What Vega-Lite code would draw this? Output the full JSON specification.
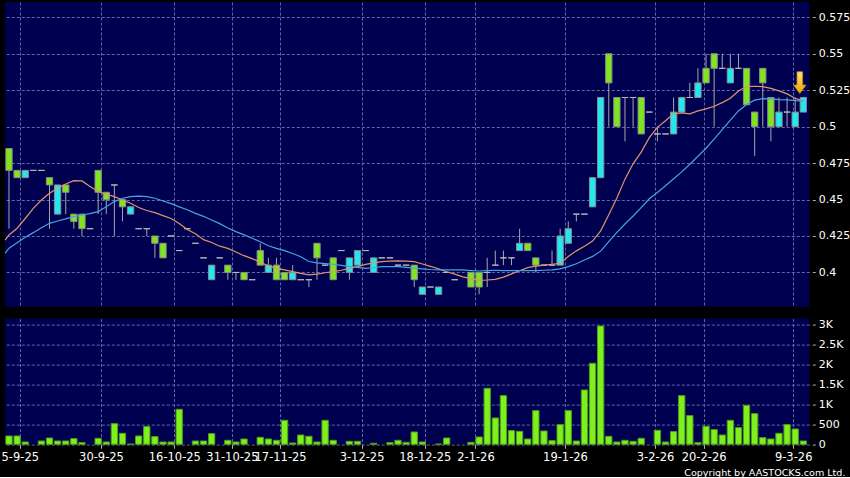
{
  "$schema": "https://vega.github.io/schema/vega-lite/v6.json",
  "background": "#000000",
  "padding": {"left": 0, "top": 2, "right": 0, "bottom": 0},
  "bounds": "flush",
  "spacing": 11.6,
  "config": {
    "view": {"fill": "#000050", "stroke": null},
    "axis": {"labelFont": "DejaVu Sans", "labelColor": "#ffffff", "gridColor": "#5f69aa", "gridDash": [3, 2], "gridWidth": 1, "domain": false, "tickColor": "#b0b0b0", "tickWidth": 1}
  },
  "datasets": {
    "k": [
      {"i": -0.49, "m1": 0.4222, "m2": 0.413},
      {"i": 0, "o": 0.485, "c": 0.47, "h": 0.485, "l": 0.43, "v": 208, "m1": 0.4257, "m2": 0.4166},
      {"i": 1, "o": 0.47, "c": 0.465, "h": 0.47, "l": 0.465, "v": 208, "m1": 0.4303, "m2": 0.4204},
      {"i": 2, "o": 0.465, "c": 0.47, "h": 0.47, "l": 0.465, "v": 58, "m1": 0.437, "m2": 0.4241},
      {"i": 3, "o": 0.47, "c": 0.47, "h": 0.47, "l": 0.47, "v": 0, "m1": 0.444, "m2": 0.4273},
      {"i": 4, "o": 0.47, "c": 0.47, "h": 0.47, "l": 0.47, "v": 83, "m1": 0.4497, "m2": 0.4307},
      {"i": 5, "o": 0.465, "c": 0.46, "h": 0.465, "l": 0.43, "v": 158, "m1": 0.4543, "m2": 0.4337},
      {"i": 6, "o": 0.44, "c": 0.46, "h": 0.46, "l": 0.44, "v": 83, "m1": 0.4578, "m2": 0.4353},
      {"i": 7, "o": 0.46, "c": 0.455, "h": 0.46, "l": 0.44, "v": 83, "m1": 0.4607, "m2": 0.4367},
      {"i": 8, "o": 0.44, "c": 0.435, "h": 0.44, "l": 0.43, "v": 142, "m1": 0.463, "m2": 0.4383},
      {"i": 9, "o": 0.44, "c": 0.43, "h": 0.44, "l": 0.425, "v": 42, "m1": 0.4628, "m2": 0.4394},
      {"i": 10, "o": 0.43, "c": 0.43, "h": 0.43, "l": 0.43, "v": 0, "m1": 0.4589, "m2": 0.4403},
      {"i": 11, "o": 0.47, "c": 0.455, "h": 0.47, "l": 0.44, "v": 150, "m1": 0.4555, "m2": 0.4417},
      {"i": 12, "o": 0.455, "c": 0.45, "h": 0.455, "l": 0.44, "v": 58, "m1": 0.4536, "m2": 0.4451},
      {"i": 13, "o": 0.46, "c": 0.46, "h": 0.46, "l": 0.425, "v": 517, "m1": 0.452, "m2": 0.4486},
      {"i": 14, "o": 0.45, "c": 0.445, "h": 0.45, "l": 0.435, "v": 275, "m1": 0.4497, "m2": 0.4509},
      {"i": 15, "o": 0.44, "c": 0.445, "h": 0.445, "l": 0.44, "v": 5, "m1": 0.4475, "m2": 0.452},
      {"i": 16, "o": 0.43, "c": 0.43, "h": 0.43, "l": 0.43, "v": 208, "m1": 0.4445, "m2": 0.4523},
      {"i": 17, "o": 0.43, "c": 0.43, "h": 0.43, "l": 0.425, "v": 442, "m1": 0.4425, "m2": 0.452},
      {"i": 18, "o": 0.425, "c": 0.42, "h": 0.425, "l": 0.41, "v": 192, "m1": 0.441, "m2": 0.4509},
      {"i": 19, "o": 0.42, "c": 0.41, "h": 0.42, "l": 0.41, "v": 58, "m1": 0.439, "m2": 0.449},
      {"i": 20, "o": 0.425, "c": 0.425, "h": 0.425, "l": 0.425, "v": 58, "m1": 0.437, "m2": 0.4472},
      {"i": 21, "o": 0.415, "c": 0.415, "h": 0.415, "l": 0.415, "v": 875, "m1": 0.4335, "m2": 0.445},
      {"i": 22, "o": 0.43, "c": 0.43, "h": 0.43, "l": 0.43, "v": 0, "m1": 0.4295, "m2": 0.443},
      {"i": 23, "o": 0.42, "c": 0.42, "h": 0.42, "l": 0.42, "v": 83, "m1": 0.4265, "m2": 0.4405},
      {"i": 24, "o": 0.41, "c": 0.41, "h": 0.41, "l": 0.41, "v": 83, "m1": 0.4225, "m2": 0.4385},
      {"i": 25, "o": 0.395, "c": 0.405, "h": 0.405, "l": 0.395, "v": 267, "m1": 0.4205, "m2": 0.436},
      {"i": 26, "o": 0.41, "c": 0.41, "h": 0.41, "l": 0.41, "v": 0, "m1": 0.418, "m2": 0.4335},
      {"i": 27, "o": 0.405, "c": 0.4, "h": 0.405, "l": 0.395, "v": 100, "m1": 0.4165, "m2": 0.4305},
      {"i": 28, "o": 0.4, "c": 0.4, "h": 0.4, "l": 0.395, "v": 58, "m1": 0.414, "m2": 0.428},
      {"i": 29, "o": 0.4, "c": 0.395, "h": 0.4, "l": 0.395, "v": 133, "m1": 0.4115, "m2": 0.4258},
      {"i": 30, "o": 0.395, "c": 0.395, "h": 0.395, "l": 0.395, "v": 0, "m1": 0.4095, "m2": 0.4235},
      {"i": 31, "o": 0.415, "c": 0.405, "h": 0.42, "l": 0.405, "v": 175, "m1": 0.407, "m2": 0.421},
      {"i": 32, "o": 0.4, "c": 0.405, "h": 0.41, "l": 0.4, "v": 133, "m1": 0.4045, "m2": 0.4183},
      {"i": 33, "o": 0.405, "c": 0.395, "h": 0.41, "l": 0.395, "v": 100, "m1": 0.4028, "m2": 0.4165},
      {"i": 34, "o": 0.4, "c": 0.395, "h": 0.4, "l": 0.395, "v": 600, "m1": 0.4017, "m2": 0.415},
      {"i": 35, "o": 0.395, "c": 0.4, "h": 0.405, "l": 0.395, "v": 33, "m1": 0.4005, "m2": 0.413},
      {"i": 36, "o": 0.395, "c": 0.395, "h": 0.395, "l": 0.395, "v": 233, "m1": 0.3994, "m2": 0.4108},
      {"i": 37, "o": 0.395, "c": 0.395, "h": 0.395, "l": 0.39, "v": 200, "m1": 0.3984, "m2": 0.4075},
      {"i": 38, "o": 0.42, "c": 0.41, "h": 0.42, "l": 0.395, "v": 58, "m1": 0.3988, "m2": 0.4065},
      {"i": 39, "o": 0.405, "c": 0.405, "h": 0.405, "l": 0.405, "v": 600, "m1": 0.3998, "m2": 0.406},
      {"i": 40, "o": 0.41, "c": 0.395, "h": 0.41, "l": 0.395, "v": 100, "m1": 0.4005, "m2": 0.4056},
      {"i": 41, "o": 0.415, "c": 0.415, "h": 0.415, "l": 0.415, "v": 0, "m1": 0.4015, "m2": 0.4048},
      {"i": 42, "o": 0.4, "c": 0.41, "h": 0.41, "l": 0.395, "v": 75, "m1": 0.4028, "m2": 0.404},
      {"i": 43, "o": 0.405, "c": 0.415, "h": 0.415, "l": 0.405, "v": 75, "m1": 0.404, "m2": 0.4035},
      {"i": 44, "o": 0.415, "c": 0.415, "h": 0.415, "l": 0.415, "v": 0, "m1": 0.4055, "m2": 0.4028},
      {"i": 45, "o": 0.4, "c": 0.41, "h": 0.41, "l": 0.4, "v": 25, "m1": 0.4065, "m2": 0.4032},
      {"i": 46, "o": 0.41, "c": 0.41, "h": 0.41, "l": 0.41, "v": 0, "m1": 0.4074, "m2": 0.404},
      {"i": 47, "o": 0.41, "c": 0.41, "h": 0.41, "l": 0.41, "v": 42, "m1": 0.4078, "m2": 0.404},
      {"i": 48, "o": 0.405, "c": 0.405, "h": 0.405, "l": 0.405, "v": 100, "m1": 0.408, "m2": 0.404},
      {"i": 49, "o": 0.405, "c": 0.405, "h": 0.405, "l": 0.405, "v": 50, "m1": 0.4078, "m2": 0.4035},
      {"i": 50, "o": 0.405, "c": 0.395, "h": 0.405, "l": 0.39, "v": 308, "m1": 0.4074, "m2": 0.403},
      {"i": 51, "o": 0.385, "c": 0.39, "h": 0.39, "l": 0.385, "v": 58, "m1": 0.4058, "m2": 0.4025},
      {"i": 52, "o": 0.39, "c": 0.39, "h": 0.39, "l": 0.39, "v": 0, "m1": 0.4042, "m2": 0.402},
      {"i": 53, "o": 0.385, "c": 0.39, "h": 0.39, "l": 0.385, "v": 5, "m1": 0.4025, "m2": 0.4018},
      {"i": 54, "o": 0.4, "c": 0.4, "h": 0.4, "l": 0.4, "v": 158, "m1": 0.4005, "m2": 0.4017},
      {"i": 55, "o": 0.395, "c": 0.395, "h": 0.395, "l": 0.395, "v": 0, "m1": 0.3988, "m2": 0.4017},
      {"i": 56, "v": 0, "m1": 0.397, "m2": 0.4017},
      {"i": 57, "o": 0.4, "c": 0.39, "h": 0.4, "l": 0.39, "v": 50, "m1": 0.3958, "m2": 0.4013},
      {"i": 58, "o": 0.4, "c": 0.39, "h": 0.4, "l": 0.385, "v": 183, "m1": 0.3945, "m2": 0.401},
      {"i": 59, "o": 0.4, "c": 0.4, "h": 0.41, "l": 0.39, "v": 1400, "m1": 0.3948, "m2": 0.4012},
      {"i": 60, "o": 0.405, "c": 0.405, "h": 0.415, "l": 0.405, "v": 658, "m1": 0.3953, "m2": 0.4015},
      {"i": 61, "o": 0.41, "c": 0.41, "h": 0.415, "l": 0.405, "v": 1217, "m1": 0.3968, "m2": 0.4013},
      {"i": 62, "o": 0.41, "c": 0.41, "h": 0.41, "l": 0.405, "v": 342, "m1": 0.399, "m2": 0.4012},
      {"i": 63, "o": 0.415, "c": 0.42, "h": 0.43, "l": 0.415, "v": 325, "m1": 0.4012, "m2": 0.4012},
      {"i": 64, "o": 0.42, "c": 0.415, "h": 0.42, "l": 0.415, "v": 133, "m1": 0.4033, "m2": 0.4012},
      {"i": 65, "o": 0.41, "c": 0.405, "h": 0.41, "l": 0.4, "v": 842, "m1": 0.4043, "m2": 0.4013},
      {"i": 66, "o": 0.405, "c": 0.405, "h": 0.405, "l": 0.405, "v": 333, "m1": 0.405, "m2": 0.4015},
      {"i": 67, "o": 0.405, "c": 0.405, "h": 0.415, "l": 0.405, "v": 92, "m1": 0.4056, "m2": 0.4017},
      {"i": 68, "o": 0.405, "c": 0.425, "h": 0.43, "l": 0.405, "v": 492, "m1": 0.4062, "m2": 0.4025},
      {"i": 69, "o": 0.42, "c": 0.43, "h": 0.435, "l": 0.42, "v": 842, "m1": 0.411, "m2": 0.404},
      {"i": 70, "o": 0.44, "c": 0.44, "h": 0.44, "l": 0.435, "v": 83, "m1": 0.4148, "m2": 0.406},
      {"i": 71, "o": 0.44, "c": 0.44, "h": 0.44, "l": 0.44, "v": 1358, "m1": 0.418, "m2": 0.4085},
      {"i": 72, "o": 0.445, "c": 0.465, "h": 0.465, "l": 0.445, "v": 2025, "m1": 0.4215, "m2": 0.411},
      {"i": 73, "o": 0.465, "c": 0.52, "h": 0.52, "l": 0.465, "v": 2958, "m1": 0.4285, "m2": 0.4146},
      {"i": 74, "o": 0.55, "c": 0.53, "h": 0.55, "l": 0.5, "v": 200, "m1": 0.4395, "m2": 0.4211},
      {"i": 75, "o": 0.52, "c": 0.5, "h": 0.52, "l": 0.5, "v": 58, "m1": 0.451, "m2": 0.4275},
      {"i": 76, "o": 0.52, "c": 0.52, "h": 0.52, "l": 0.49, "v": 100, "m1": 0.464, "m2": 0.4332},
      {"i": 77, "o": 0.52, "c": 0.52, "h": 0.52, "l": 0.5, "v": 75, "m1": 0.4745, "m2": 0.4387},
      {"i": 78, "o": 0.52, "c": 0.495, "h": 0.52, "l": 0.495, "v": 150, "m1": 0.4825, "m2": 0.4445},
      {"i": 79, "o": 0.51, "c": 0.51, "h": 0.51, "l": 0.51, "v": 0, "m1": 0.4925, "m2": 0.4505},
      {"i": 80, "o": 0.495, "c": 0.495, "h": 0.5, "l": 0.49, "v": 350, "m1": 0.4995, "m2": 0.4548},
      {"i": 81, "o": 0.495, "c": 0.495, "h": 0.495, "l": 0.495, "v": 58, "m1": 0.504, "m2": 0.4595},
      {"i": 82, "o": 0.495, "c": 0.51, "h": 0.52, "l": 0.495, "v": 317, "m1": 0.5088, "m2": 0.4643},
      {"i": 83, "o": 0.51, "c": 0.52, "h": 0.52, "l": 0.51, "v": 1217, "m1": 0.5095, "m2": 0.469},
      {"i": 84, "o": 0.52, "c": 0.52, "h": 0.53, "l": 0.52, "v": 717, "m1": 0.5088, "m2": 0.4742},
      {"i": 85, "o": 0.52, "c": 0.53, "h": 0.54, "l": 0.52, "v": 42, "m1": 0.5108, "m2": 0.4797},
      {"i": 86, "o": 0.54, "c": 0.53, "h": 0.55, "l": 0.53, "v": 450, "m1": 0.5122, "m2": 0.4852},
      {"i": 87, "o": 0.55, "c": 0.54, "h": 0.55, "l": 0.5, "v": 367, "m1": 0.514, "m2": 0.4915},
      {"i": 88, "o": 0.54, "c": 0.54, "h": 0.55, "l": 0.54, "v": 233, "m1": 0.5165, "m2": 0.498},
      {"i": 89, "o": 0.53, "c": 0.54, "h": 0.55, "l": 0.53, "v": 600, "m1": 0.5195, "m2": 0.5045},
      {"i": 90, "o": 0.54, "c": 0.54, "h": 0.55, "l": 0.54, "v": 417, "m1": 0.5245, "m2": 0.5108},
      {"i": 91, "o": 0.54, "c": 0.515, "h": 0.54, "l": 0.515, "v": 975, "m1": 0.5275, "m2": 0.5152},
      {"i": 92, "o": 0.51, "c": 0.5, "h": 0.51, "l": 0.48, "v": 767, "m1": 0.5277, "m2": 0.5182},
      {"i": 93, "o": 0.54, "c": 0.53, "h": 0.54, "l": 0.5, "v": 167, "m1": 0.5275, "m2": 0.5192},
      {"i": 94, "o": 0.52, "c": 0.5, "h": 0.52, "l": 0.49, "v": 133, "m1": 0.5262, "m2": 0.519},
      {"i": 95, "o": 0.5, "c": 0.51, "h": 0.52, "l": 0.5, "v": 275, "m1": 0.5245, "m2": 0.5185},
      {"i": 96, "o": 0.51, "c": 0.51, "h": 0.52, "l": 0.5, "v": 492, "m1": 0.5225, "m2": 0.5183},
      {"i": 97, "o": 0.5, "c": 0.51, "h": 0.52, "l": 0.5, "v": 383, "m1": 0.5195, "m2": 0.5178},
      {"i": 98, "o": 0.51, "c": 0.52, "h": 0.52, "l": 0.51, "v": 83, "m1": 0.5175, "m2": 0.5175}
    ],
    "arrow": [{"i": 97.57, "p": 0.5302}]
  },
  "vconcat": [
    {
      "width": 804.3,
      "height": 304.7,
      "encoding": {
        "x": {
          "field": "i", "type": "quantitative",
          "scale": {"domain": [-0.4935, 98.74], "nice": false, "zero": false, "padding": 0},
          "axis": {"values": [1.3, 11.35, 20.4, 27.5, 33.45, 43.5, 51.3, 57.55, 68.6, 79.7, 85.7, 96.75], "labels": false, "ticks": false, "grid": true, "title": null}
        }
      },
      "layer": [
        {
          "data": {"name": "k"},
          "transform": [{"filter": "isValid(datum.o)"}],
          "mark": {"type": "rule", "color": "#a8a8a8", "strokeWidth": 1},
          "encoding": {
            "y": {
              "field": "l", "type": "quantitative",
              "scale": {"domain": [0.3765, 0.5855], "nice": false, "zero": false},
              "axis": {"orient": "right", "values": [0.4, 0.425, 0.45, 0.475, 0.5, 0.525, 0.55, 0.575], "format": ".3~f", "grid": true, "tickSize": 3, "offset": 3, "labelPadding": 3, "labelFontSize": 11, "title": null}
            },
            "y2": {"field": "h"}
          }
        },
        {
          "data": {"name": "k"},
          "transform": [{"filter": "isValid(datum.o)"}],
          "mark": {"type": "bar", "size": 6.3, "strokeWidth": 1},
          "encoding": {
            "y": {
              "field": "o", "type": "quantitative",
              "scale": {"domain": [0.3765, 0.5855], "nice": false, "zero": false},
              "axis": {"orient": "right", "values": [0.4, 0.425, 0.45, 0.475, 0.5, 0.525, 0.55, 0.575], "format": ".3~f", "grid": true, "tickSize": 3, "offset": 3, "labelPadding": 3, "labelFontSize": 11, "title": null}
            },
            "y2": {"field": "c"},
            "fill": {"condition": {"test": "datum.c > datum.o", "value": "#22e8f0"}, "value": "#80e41e"},
            "stroke": {"condition": {"test": "datum.c == datum.o", "value": "#b8b8b8"}, "value": "#8c8c8c"}
          }
        },
        {
          "data": {"name": "k"},
          "mark": {"type": "line", "color": "#e0946c", "strokeWidth": 1.2},
          "encoding": {
            "y": {
              "field": "m1", "type": "quantitative",
              "scale": {"domain": [0.3765, 0.5855], "nice": false, "zero": false},
              "axis": {"orient": "right", "values": [0.4, 0.425, 0.45, 0.475, 0.5, 0.525, 0.55, 0.575], "format": ".3~f", "grid": true, "tickSize": 3, "offset": 3, "labelPadding": 3, "labelFontSize": 11, "title": null}
            }
          }
        },
        {
          "data": {"name": "k"},
          "mark": {"type": "line", "color": "#44a4e4", "strokeWidth": 1.2},
          "encoding": {
            "y": {
              "field": "m2", "type": "quantitative",
              "scale": {"domain": [0.3765, 0.5855], "nice": false, "zero": false},
              "axis": {"orient": "right", "values": [0.4, 0.425, 0.45, 0.475, 0.5, 0.525, 0.55, 0.575], "format": ".3~f", "grid": true, "tickSize": 3, "offset": 3, "labelPadding": 3, "labelFontSize": 11, "title": null}
            }
          }
        },
        {
          "data": {"name": "arrow"},
          "mark": {
            "type": "point",
            "shape": "M -0.26 -1 L 0.26 -1 L 0.26 0.23 L 0.57 0.23 L 0 1 L -0.57 0.23 L -0.26 0.23 Z",
            "size": 467, "filled": true, "opacity": 1,
            "fill": {"gradient": "linear", "x1": 0, "y1": 0, "x2": 0, "y2": 1, "stops": [{"offset": 0, "color": "#ffe27a"}, {"offset": 1, "color": "#f0a000"}]},
            "stroke": "#c88a00", "strokeWidth": 0.8
          },
          "encoding": {
            "y": {
              "field": "p", "type": "quantitative",
              "scale": {"domain": [0.3765, 0.5855], "nice": false, "zero": false},
              "axis": {"orient": "right", "values": [0.4, 0.425, 0.45, 0.475, 0.5, 0.525, 0.55, 0.575], "format": ".3~f", "grid": true, "tickSize": 3, "offset": 3, "labelPadding": 3, "labelFontSize": 11, "title": null}
            }
          }
        }
      ]
    },
    {
      "width": 804.3,
      "height": 125.7,
      "data": {"name": "k"},
      "transform": [{"filter": "datum.v > 0"}],
      "mark": {"type": "bar", "size": 6.3, "fill": "#7ef01e", "stroke": "#4f9e12", "strokeWidth": 1},
      "encoding": {
        "x": {
          "field": "i", "type": "quantitative",
          "scale": {"domain": [-0.4935, 98.74], "nice": false, "zero": false, "padding": 0},
          "axis": {
            "values": [1.3, 11.35, 20.4, 27.5, 33.45, 43.5, 51.3, 57.55, 68.6, 79.7, 85.7, 96.75],
            "labelExpr": "datum.value == 1.3 ? '5-9-25' : datum.value == 11.35 ? '30-9-25' : datum.value == 20.4 ? '16-10-25' : datum.value == 27.5 ? '31-10-25' : datum.value == 33.45 ? '17-11-25' : datum.value == 43.5 ? '3-12-25' : datum.value == 51.3 ? '18-12-25' : datum.value == 57.55 ? '2-1-26' : datum.value == 68.6 ? '19-1-26' : datum.value == 79.7 ? '3-2-26' : datum.value == 85.7 ? '20-2-26' : '9-3-26'",
            "grid": true, "ticks": true, "tickSize": 4, "labelPadding": 3, "labelFontSize": 11.5,
            "labelFlush": 15.3, "labelFlushOffset": 18.54, "labelOverlap": false,
            "title": "Copyright by AASTOCKS.com Ltd.", "titleColor": "#ffffff", "titleFont": "DejaVu Sans", "titleFontSize": 9.6, "titleFontWeight": "normal",
            "titleX": 840, "titleY": 31, "titleAlign": "right", "titleBaseline": "alphabetic", "titleAnchor": "end"
          }
        },
        "y": {
          "field": "v", "type": "quantitative",
          "scale": {"domain": [0, 3142.5], "nice": false, "zero": true},
          "axis": {"orient": "right", "values": [0, 500, 1000, 1500, 2000, 2500, 3000], "labelExpr": "datum.value >= 1000 ? format(datum.value / 1000, '~g') + 'K' : format(datum.value, 'd')", "grid": true, "tickSize": 3, "offset": 3, "labelPadding": 3, "labelFontSize": 11, "title": null}
        }
      }
    }
  ]
}
